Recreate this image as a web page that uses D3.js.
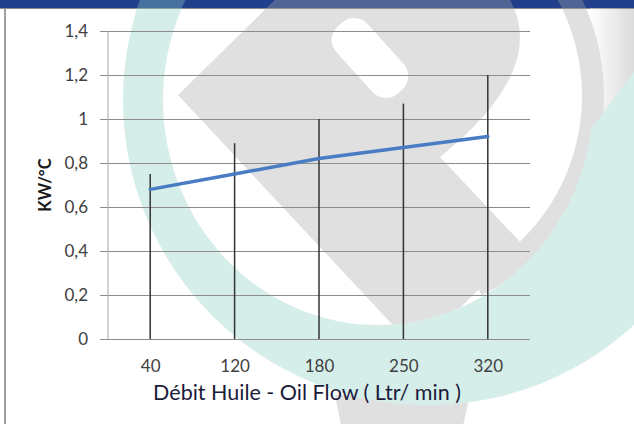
<!DOCTYPE html>
<html>
<head>
<meta charset="utf-8">
<script src="https://cdn.jsdelivr.net/npm/d3@7"></script>
<style>
  body { margin: 0; background: #fff; }
  svg { display: block; font-family: Lato, "Open Sans", sans-serif; }
</style>
</head>
<body>
<div id="chart"></div>
<script>
// data
const categories = ['40', '120', '180', '250', '320']
const kwValues = [0.68, 0.75, 0.82, 0.87, 0.92]
const dropValues = [0.75, 0.89, 1.0, 1.07, 1.2]
const yTicks = [0, 0.2, 0.4, 0.6, 0.8, 1, 1.2, 1.4]

const width = 634,
    height = 424,
    plotLeft = 108,
    plotRight = 530,
    plotTop = 31,
    plotBottom = 339

let svg = d3.select('#chart')
    .append('svg')
    .attr('width', width)
    .attr('height', height)

let defs = svg.append('defs')

// header bar + frame
svg.append('rect').attr('x', 0).attr('y', 0).attr('width', width).attr('height', 8).attr('fill', '#223f8b')
svg.append('line').attr('x1', 0).attr('x2', width).attr('y1', 8.5).attr('y2', 8.5).attr('stroke', '#8a8a8a')
svg.append('line').attr('x1', 5).attr('x2', 5).attr('y1', 9).attr('y2', height).attr('stroke', '#a0a0a0').attr('stroke-width', 2)

// watermark (logo behind the chart)
let wm = svg.append('g').attr('opacity', 0.35)
let grad = defs.append('linearGradient').attr('id', 'corner')
grad.append('stop').attr('offset', '0%').attr('stop-color', '#fff')
grad.append('stop').attr('offset', '100%').attr('stop-color', '#9a9a9a')
wm.append('rect').attr('x', 590).attr('y', 8).attr('width', 44).attr('height', 110).attr('fill', 'url(#corner)')
wm.append('path')
    .attr('transform', 'translate(380,96)')
    .attr('d', d3.arc().innerRadius(202).outerRadius(224).startAngle(0.25 * Math.PI).endAngle(0.85 * Math.PI)())
    .attr('fill', '#a9a9a9')
wm.append('path')
    .attr('d', 'M178,95 L290,-15 L500,-15 Q560,60 440,157 L523,245 L417,351 Z')
    .attr('fill', '#a9a9a9')
wm.append('path')
    .attr('d', 'M335,395 L470,395 L462,430 L342,430 Z')
    .attr('fill', '#a9a9a9')
wm.append('rect')
    .attr('x', -45).attr('y', -21).attr('width', 90).attr('height', 42).attr('rx', 18)
    .attr('transform', 'translate(370,58) rotate(48)')
    .attr('fill', '#fff')

defs.append('clipPath').attr('id', 'ringcut')
    .append('path')
    .attr('clip-rule', 'evenodd')
    .attr('d', 'M-10,-40 H700 V440 H-10 Z M590,130 L711,-30 L360,-30 L360,60 Z')
const ellipse = (cx, cy, rx, ry) =>
    `M${cx - rx},${cy} a${rx},${ry} 0 1,0 ${2 * rx},0 a${rx},${ry} 0 1,0 ${-2 * rx},0 Z`
wm.append('path')
    .attr('d', ellipse(428, 100, 305, 305) + ellipse(378, 100, 215, 225))
    .attr('fill-rule', 'evenodd')
    .attr('clip-path', 'url(#ringcut)')
    .attr('fill', '#8dd1c6')

// scales
const xScale = d3.scalePoint()
    .domain(categories)
    .range([plotLeft, plotRight])
    .padding(0.5)

const yScale = d3.scaleLinear()
    .domain([0, 1.4])
    .range([plotBottom, plotTop])

const fmt = (d) => String(+d.toFixed(1)).replace('.', ',')

// grid + y axis
let yAxis = svg.append('g')
    .attr('transform', `translate(${plotRight},0)`)
    .call(d3.axisLeft(yScale).tickValues(yTicks).tickSize(plotRight - plotLeft + 8).tickFormat(fmt))
yAxis.select('.domain').remove()
yAxis.selectAll('.tick line').attr('stroke', '#8c8c8c')
yAxis.selectAll('.tick text')
    .attr('x', -(plotRight - 88))
    .attr('fill', '#404040')
    .style('font-size', '17px')
    .style('font-family', 'Lato, sans-serif')

svg.append('line')
    .attr('x1', plotLeft).attr('x2', plotLeft)
    .attr('y1', yScale(1.4)).attr('y2', yScale(0))
    .attr('stroke', '#a8a8a8')

// x axis labels
let xAxis = svg.append('g')
    .attr('transform', `translate(0,${plotBottom})`)
    .call(d3.axisBottom(xScale).tickSize(0).tickPadding(21))
xAxis.select('.domain').remove()
xAxis.selectAll('.tick text')
    .attr('fill', '#404040')
    .style('font-size', '17px')
    .style('font-family', 'Lato, sans-serif')

// drop lines
svg.selectAll('line.drop')
    .data(dropValues)
    .enter()
    .append('line')
    .attr('class', 'drop')
    .attr('x1', (d, i) => xScale(categories[i]))
    .attr('x2', (d, i) => xScale(categories[i]))
    .attr('y1', yScale(0))
    .attr('y2', (d) => yScale(d))
    .attr('stroke', '#333')
    .attr('stroke-width', 1.5)

// kw line
const line = d3.line()
    .x((d, i) => xScale(categories[i]))
    .y((d) => yScale(d))

svg.append('path')
    .datum(kwValues)
    .attr('d', line)
    .attr('fill', 'none')
    .attr('stroke', '#4a7cc4')
    .attr('stroke-width', 3.5)
    .attr('stroke-linecap', 'round')

// titles
svg.append('text')
    .attr('x', 307)
    .attr('y', 400)
    .attr('text-anchor', 'middle')
    .attr('fill', '#1b1b3a')
    .style('font-size', '21.5px')
    .text('Débit Huile - Oil Flow ( Ltr/ min )')

svg.append('text')
    .attr('transform', 'translate(51,185) rotate(-90)')
    .attr('text-anchor', 'middle')
    .attr('fill', '#1a1a1a')
    .style('font-size', '16.5px')
    .style('font-weight', 'bold')
    .text('KW/°C')
</script>
</body>
</html>
